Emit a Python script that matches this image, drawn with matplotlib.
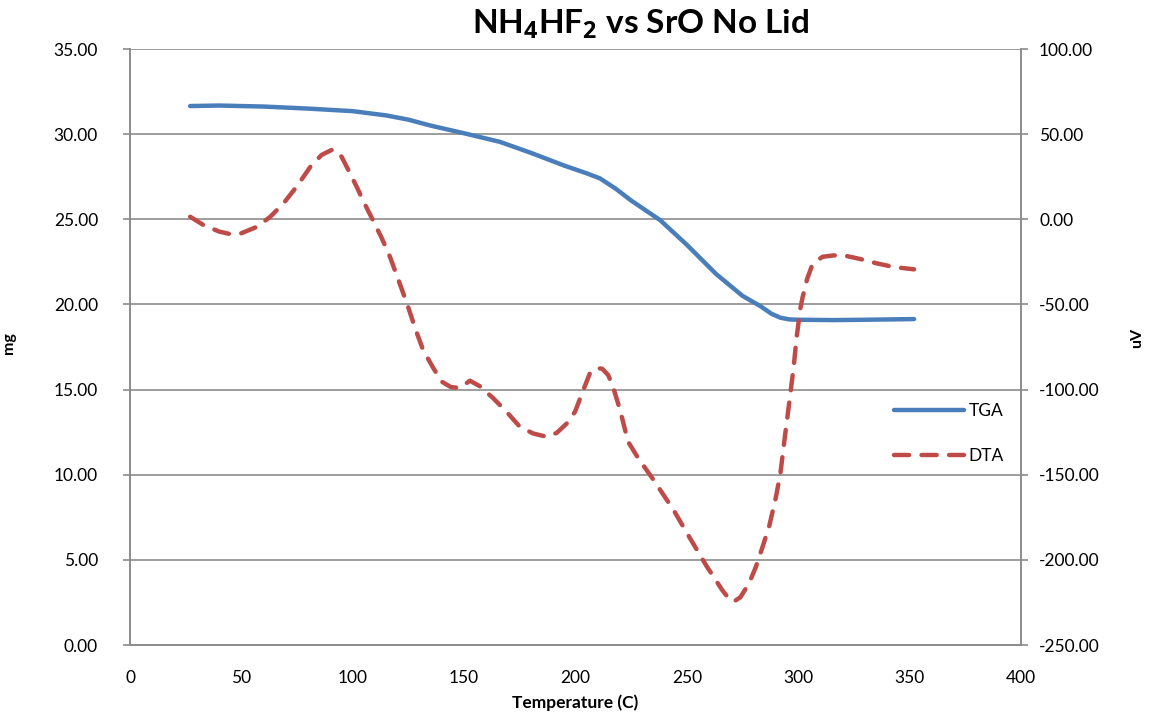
import matplotlib
matplotlib.use("Agg")
import matplotlib.pyplot as plt
import numpy as np

plt.rcParams['font.family'] = ['Lato', 'DejaVu Sans']
plt.rcParams['mathtext.fontset'] = 'custom'
plt.rcParams['mathtext.rm'] = 'Open Sans'
plt.rcParams['mathtext.bf'] = 'Open Sans:bold'

tga_temp = [27, 40, 60, 80, 100, 115, 125, 135, 150, 166, 180, 195, 205, 211, 218, 225, 238, 250, 263, 275, 283, 288, 292, 296, 300, 316, 330, 352]
tga_mg = [31.65, 31.68, 31.62, 31.5, 31.35, 31.1, 30.85, 30.5, 30.05, 29.55, 28.9, 28.15, 27.7, 27.4, 26.8, 26.1, 24.95, 23.5, 21.8, 20.5, 19.9, 19.45, 19.22, 19.12, 19.1, 19.08, 19.1, 19.14]

dta_temp = [27, 33, 40, 45, 50, 57, 63, 69, 75, 81, 86, 90.5, 93, 95, 98, 101.8, 105, 109, 113, 116.7, 121, 125, 128, 131.6, 136, 140, 144, 148, 152.6, 157, 163, 169, 175, 181, 187, 191.6, 196, 199.8, 203, 206.5, 209.5, 212, 214.7, 217, 220, 223.6, 228, 235, 244, 251, 259, 263, 266, 269, 271, 274, 278, 281, 284, 287, 290, 292, 294, 296.3, 298, 299.3, 301, 302, 304, 306, 308, 311, 316, 321.8, 327.7, 335, 342.7, 352]
dta_uv = [1.5, -3.4, -7.2, -8.7, -8.2, -4.4, 1.5, 9.5, 19.5, 30.9, 37.8, 40.7, 40, 36.7, 29, 19, 10, -0.4, -11, -22, -37.4, -52, -64, -76.8, -87, -95.4, -98.5, -99.1, -94.8, -98, -105, -113, -121.8, -125.8, -127.7, -125.4, -120, -113, -102, -90.3, -87.3, -87.8, -91.5, -99, -112, -130.6, -140, -153, -170.7, -186.4, -204, -212, -218, -223, -224.6, -222, -213.6, -204, -192.3, -180, -163, -149, -127.7, -104.2, -86, -69, -52, -45.5, -35, -27.8, -24.5, -22, -21.2, -21.6, -23.3, -25.8, -28, -29.4]

x_ticks = [0, 50, 100, 150, 200, 250, 300, 350, 400]
left_ticks = [0, 5, 10, 15, 20, 25, 30, 35]
right_ticks = [-250, -200, -150, -100, -50, 0, 50, 100]

fig = plt.figure(figsize=(11.51, 7.15), dpi=100)
ax = fig.add_axes([130/1151, 70/715, 891/1151, 596/715])
ax2 = ax.twinx()

grid_c = '#8c8c8c'
l1, = ax.plot(tga_temp, tga_mg, color='#4a7ebb', lw=3.2, solid_capstyle='round', solid_joinstyle='round', label='TGA', zorder=3)
l2, = ax2.plot(dta_temp, dta_uv, color='#be4b48', lw=3.2, dashes=(3.4, 2.8), dash_capstyle='round', dash_joinstyle='round', label='DTA', zorder=3)

ax.set_xlim(0, 400)
ax.set_ylim(0, 35)
ax2.set_ylim(-250, 100)
ax.set_xticks(x_ticks)
ax.set_xticklabels([str(v) for v in x_ticks])
ax.set_yticks(left_ticks)
ax.set_yticklabels([f'{v:.2f}' for v in left_ticks])
ax2.set_yticks(right_ticks)
ax2.set_yticklabels([f'{v:.2f}' for v in right_ticks])

ax.yaxis.grid(True, color=grid_c, lw=1.2)
ax.set_axisbelow(True)
for a in (ax, ax2):
    a.spines['top'].set_visible(False)
    for s in ('left', 'right', 'bottom'):
        a.spines[s].set_color(grid_c)
        a.spines[s].set_linewidth(1.2)
    a.tick_params(colors='black', labelsize=12.5, length=5, width=1.2)
    a.tick_params(axis='both', color=grid_c)
ax.tick_params(axis='y', pad=18)
ax2.tick_params(axis='y', pad=8)
ax.tick_params(axis='x', length=0, pad=18)

ax.set_xlabel('Temperature (C)', fontsize=12.5, fontweight='bold', labelpad=6)
ax.set_ylabel('mg', fontsize=11.5, fontweight='bold')
ax2.set_ylabel('uV', fontsize=11.5, fontweight='bold', rotation=90, va='center')
ax.yaxis.set_label_coords(-0.128, 0.506)
ax2.yaxis.set_label_coords(1.13, 0.515)

fig.suptitle(r'NH$_\mathbf{4}$HF$_\mathbf{2}$ vs SrO No Lid', fontsize=24, fontweight='bold', x=0.557, y=0.99, va='top')

ax.legend([l1, l2], ['TGA', 'DTA'], loc='center left', bbox_to_anchor=(0.84, 0.355), frameon=False,
          fontsize=12.5, handlelength=4.0, labelspacing=1.7, handletextpad=0.3)

fig.savefig('out.png', dpi=100)
